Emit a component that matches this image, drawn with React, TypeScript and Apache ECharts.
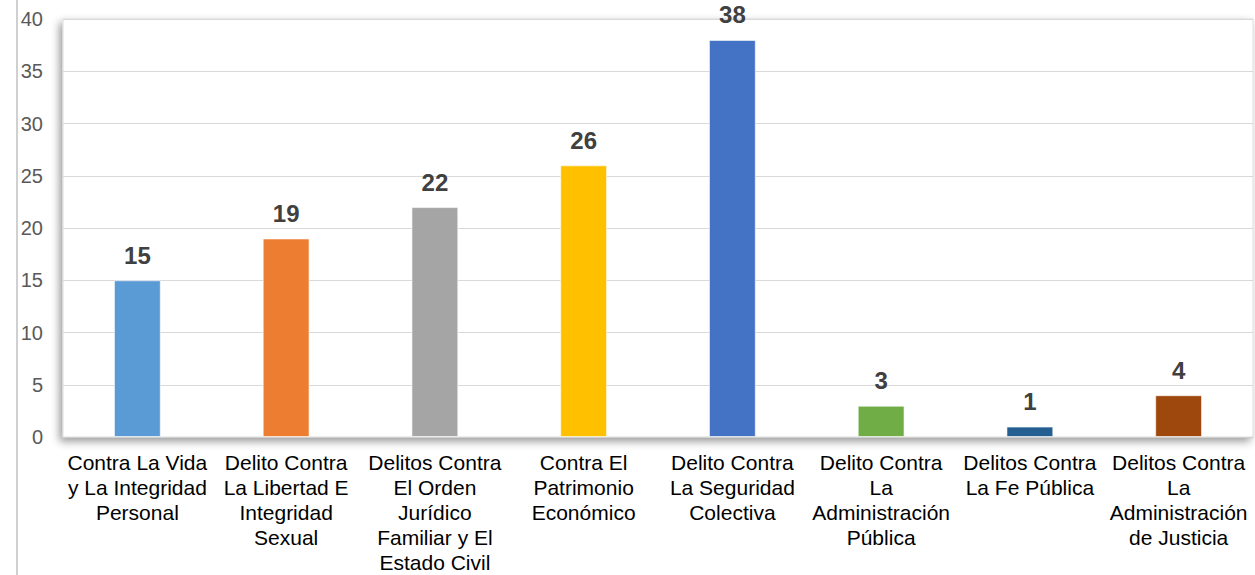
import React, { useEffect, useRef } from "react";
import * as echarts from "echarts";

const categories = [
  "Contra La Vida\ny La Integridad\nPersonal",
  "Delito Contra\nLa Libertad E\nIntegridad\nSexual",
  "Delitos Contra\nEl Orden\nJurídico\nFamiliar y El\nEstado Civil",
  "Contra El\nPatrimonio\nEconómico",
  "Delito Contra\nLa Seguridad\nColectiva",
  "Delito Contra\nLa\nAdministración\nPública",
  "Delitos Contra\nLa Fe Pública",
  "Delitos Contra\nLa\nAdministración\nde Justicia",
];
const values = [15, 19, 22, 26, 38, 3, 1, 4];
const colors = ["#5B9BD5", "#ED7D31", "#A5A5A5", "#FFC000", "#4472C4", "#70AD47", "#255E91", "#9E480E"];
const yTicks = { min: 0, max: 40, interval: 5 };

export default function App() {
  const ref = useRef<HTMLDivElement>(null);
  useEffect(() => {
    if (!ref.current) return;
    const chart = echarts.init(ref.current, undefined, { renderer: "svg" });
    chart.setOption({
      animation: false,
      backgroundColor: "#ffffff",
      textStyle: { fontFamily: "Liberation Sans, Arial, sans-serif" },
      grid: {
        left: 63,
        right: 2,
        top: 19,
        bottom: 138,
        show: true,
        backgroundColor: "#ffffff",
        borderWidth: 1,
        borderColor: "#dcdcdc",
        shadowBlur: 8,
        shadowColor: "rgba(0,0,0,0.4)",
        shadowOffsetX: -3,
        shadowOffsetY: 4,
      },
      graphic: [
        {
          type: "line",
          shape: { x1: 17, y1: 0, x2: 17, y2: 575 },
          style: { stroke: "#d0d0d0", lineWidth: 2 },
          z: 10,
        },
      ],
      xAxis: {
        type: "category",
        data: categories,
        axisLine: { show: true, lineStyle: { color: "#d0d0d0", width: 1 } },
        axisTick: { show: false },
        axisLabel: {
          interval: 0,
          color: "#000000",
          fontSize: 21,
          lineHeight: 25,
          margin: 13,
          align: "center",
          fontFamily: "Liberation Sans, Arial, sans-serif",
        },
      },
      yAxis: {
        type: "value",
        min: yTicks.min,
        max: yTicks.max,
        interval: yTicks.interval,
        axisLine: { show: false },
        axisTick: { show: false },
        splitLine: { lineStyle: { color: "#d9d9d9", width: 1 } },
        axisLabel: {
          color: "#595959",
          fontSize: 20,
          margin: 20,
          fontFamily: "Liberation Sans, Arial, sans-serif",
        },
      },
      series: [
        {
          type: "bar",
          data: values.map((v, i) => ({ value: v, itemStyle: { color: colors[i] } })),
          barWidth: "31.5%",
          itemStyle: { borderColor: "rgba(255,255,255,0.6)", borderWidth: 1 },
          label: {
            show: true,
            position: "top",
            distance: 13,
            color: "#404040",
            fontSize: 24,
            fontWeight: "bold",
            fontFamily: "Liberation Sans, Arial, sans-serif",
          },
        },
      ],
    });
    return () => chart.dispose();
  }, []);
  return <div ref={ref} style={{ width: 1255, height: 575, position: "fixed", left: 0, top: 0 }} />;
}
